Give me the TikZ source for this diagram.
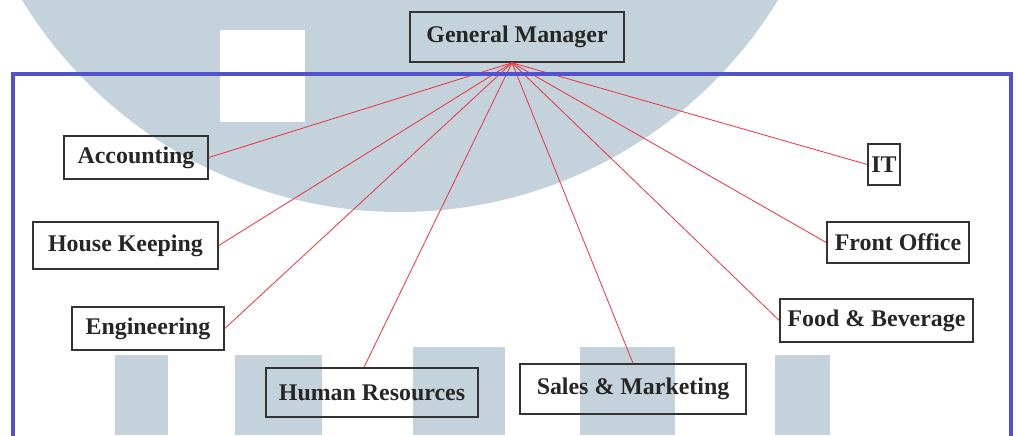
\documentclass[tikz,border=0pt]{standalone}
\usepackage{fontspec}
\setmainfont{Liberation Serif}
\usepackage{tikz}
\usetikzlibrary{positioning}
\definecolor{wmark}{RGB}{196,211,219}
\definecolor{boxblue}{RGB}{82,82,206}
\definecolor{redline}{RGB}{232,58,70}

\begin{document}
\begin{tikzpicture}[
		unit/.style={
			draw=black!80,
			line width=1.1pt,
			inner sep=2pt,
			text=black!85,
			font=\fontsize{17}{20}\selectfont\bfseries
		},
		wire/.style={
			draw=redline,
			line width=0.6pt
		}
		]
		
		\clip (0,0) rectangle (25.4,10.875);
		
		% watermark
		\fill[wmark] (10.0,16.65) circle (11.075cm);
		\fill[white] (5.5,7.825) rectangle (7.625,10.125);
		\fill[wmark] (2.875,0) rectangle (4.2,2.0);
		\fill[wmark] (5.875,0) rectangle (8.05,2.0);
		\fill[wmark] (10.325,0) rectangle (12.625,2.2);
		\fill[wmark] (14.5,0) rectangle (16.875,2.2);
		\fill[wmark] (19.375,0) rectangle (20.75,2.0);
		
		\node[unit, minimum width=5.35cm, minimum height=1.25cm] at (12.925, 9.95)
		(gm) {General Manager};
		\coordinate (hub) at ([xshift=-0.125cm]gm.south);
		
		\node[unit, minimum width=3.6cm, minimum height=1.075cm] at (3.4, 6.9375)
		(acc) {Accounting};
		\node[unit, minimum width=4.625cm, minimum height=1.175cm] at (3.1375, 4.7375)
		(hk) {House Keeping};
		\node[unit, minimum width=3.8cm, minimum height=1.075cm] at (3.7, 2.6625)
		(eng) {Engineering};
		\node[unit, minimum width=5.3cm, minimum height=1.225cm] at (9.3, 1.0625)
		(hr) {Human Resources};
		\node[unit, minimum width=5.65cm, minimum height=1.25cm] at (15.825, 1.15)
		(sm) {Sales \& Marketing};
		\node[unit, minimum width=4.825cm, minimum height=1.075cm] at (21.9125, 2.8625)
		(fb) {Food \& Beverage};
		\node[unit, minimum width=3.55cm, minimum height=1.025cm] at (22.45, 4.8125)
		(fo) {Front Office};
		\node[unit, minimum width=0.8cm, minimum height=1.025cm] at (22.1, 6.7625)
		(it) {IT};
		
		\draw[wire] (hub) -- (acc.east);
		\draw[wire] (hub) -- (hk.east);
		\draw[wire] (hub) -- (eng.east);
		\draw[wire] (hub) -- ([xshift=-0.2cm]hr.north);
		\draw[wire] (hub) -- (sm.north);
		\draw[wire] (hub) -- (fb.west);
		\draw[wire] (hub) -- (fo.west);
		\draw[wire] (hub) -- (it.west);
		
		\draw[boxblue, line width=2.8pt] (0.325,-1) rectangle (25.275,9.025);
		
		\end{tikzpicture}
\end{document}
